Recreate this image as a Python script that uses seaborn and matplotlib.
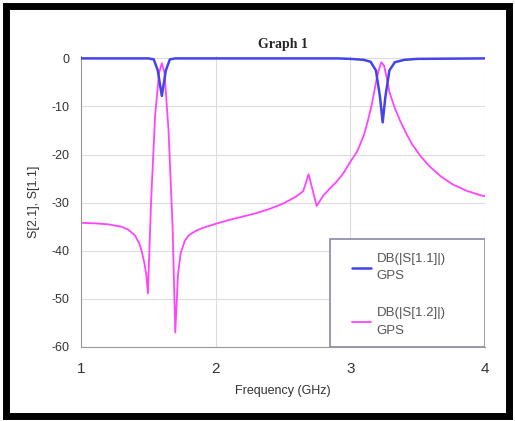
import numpy as np
import pandas as pd
import matplotlib
matplotlib.use("Agg")
import matplotlib.pyplot as plt
import seaborn as sns
from matplotlib.patches import Rectangle

# S[1.1] (blue)
freq_s11 = [1.0, 1.5, 1.54, 1.57, 1.60, 1.63, 1.66, 1.7, 2.9, 3.0, 3.1, 3.15, 3.19,
            3.22, 3.24, 3.26, 3.29, 3.33, 3.4, 3.5, 4.0]
db_s11 = [0, 0, -0.2, -2.5, -7.8, -2.5, -0.2, 0, 0, -0.1, -0.3, -0.7, -2.5,
          -8, -13.3, -8, -2.5, -0.8, -0.3, -0.1, 0]

# S[1.2] (magenta)
freq_s12 = [1.0, 1.1, 1.2, 1.3, 1.35, 1.4, 1.43, 1.45, 1.47, 1.485, 1.497, 1.52, 1.55,
            1.58, 1.60, 1.62, 1.65, 1.68, 1.70, 1.72, 1.74, 1.77, 1.8, 1.85, 1.9, 2.0,
            2.1, 2.2, 2.3, 2.4, 2.5, 2.6, 2.65, 2.69, 2.75, 2.8, 2.85, 2.9, 2.95, 3.0,
            3.05, 3.1, 3.13, 3.16, 3.19, 3.21, 3.23, 3.25, 3.27, 3.29, 3.33, 3.37, 3.42,
            3.46, 3.52, 3.59, 3.67, 3.76, 3.86, 3.96, 4.0]
db_s12 = [-34.2, -34.3, -34.5, -35.0, -35.6, -36.8, -38.3, -40, -42.5, -45, -48.9, -30, -12,
          -3, -1, -3, -15, -35, -57, -45, -40.5, -38, -36.8, -35.9, -35.3, -34.4,
          -33.6, -32.9, -32.2, -31.3, -30.2, -28.7, -27.6, -24.1, -30.7, -28.5, -27, -25.6, -23.8, -21.5,
          -19.4, -16, -13, -9.5, -5, -2.5, -0.8, -1.5, -4, -7, -10.3, -13, -15.9,
          -17.9, -20.3, -22.5, -24.5, -26.2, -27.5, -28.4, -28.7]

sns.set_style("whitegrid", {"grid.color": "#dcdcdc", "axes.edgecolor": "#999999"})
plt.rcParams["font.family"] = ["Liberation Sans", "DejaVu Sans"]
plt.rcParams["axes.unicode_minus"] = False

fig = plt.figure(figsize=(5.15, 4.21), dpi=100)
fig.patches.append(Rectangle((0.012, 0.012), 0.976, 0.974, transform=fig.transFigure,
                             fill=False, edgecolor="black", linewidth=5))
ax = fig.add_axes([0.1573, 0.176, 0.7845, 0.691])

sns.lineplot(x=freq_s11, y=db_s11, ax=ax, color="#4444e8", linewidth=1.8,
             estimator=None, sort=False, label="DB(|S[1.1]|)\nGPS", zorder=3)
sns.lineplot(x=freq_s12, y=db_s12, ax=ax, color="#ff44ff", linewidth=1.3,
             estimator=None, sort=False, label="DB(|S[1.2]|)\nGPS", zorder=2)

ax.set_xlim(1, 4)
ax.set_ylim(-60, 0.5)
ax.set_xticks([1, 2, 3, 4])
ax.set_yticks([0, -10, -20, -30, -40, -50, -60])
for s in ["top", "right"]:
    ax.spines[s].set_visible(False)
ax.tick_params(axis="both", direction="out", length=5, color="#999999",
               labelcolor="#333333")
ax.tick_params(axis="x", labelsize=11, pad=6)
ax.tick_params(axis="y", labelsize=9)
ax.set_xlabel("Frequency (GHz)", fontsize=9, color="#333333", labelpad=6)
ax.set_ylabel("S[2.1], S[1.1]", fontsize=9, color="#333333", labelpad=8)
ax.set_title("Graph 1", fontsize=10, fontweight="bold", family="Liberation Serif", pad=6)

# legend box: wider than its contents, as in the reference
ax.add_patch(Rectangle((0.616, 0.0), 0.384, 0.371, transform=ax.transAxes,
                       facecolor="white", edgecolor="#8888aa", linewidth=1.2, zorder=4))
leg = ax.legend(loc="upper left", bbox_to_anchor=(0.67, 0.323), borderaxespad=0,
                frameon=False, fontsize=9.5, handlelength=1.5, handletextpad=0.4,
                labelspacing=1.9, borderpad=0)
leg.set_zorder(5)
for t in leg.get_texts():
    t.set_color("#555555")
    t.set_linespacing(1.6)

fig.savefig("out.png", dpi=100)
